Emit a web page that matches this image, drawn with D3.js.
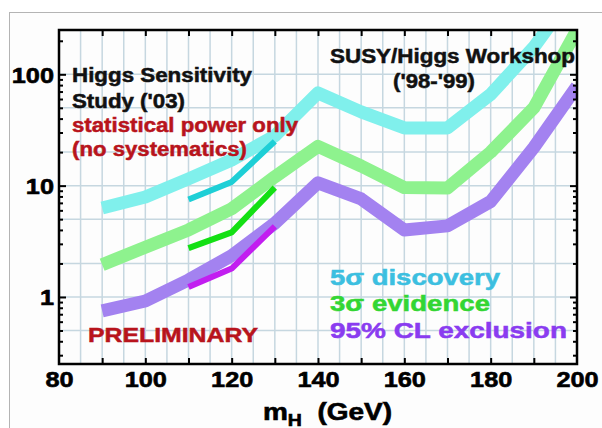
<!DOCTYPE html>
<html>
<head>
<meta charset="utf-8">
<script src="https://cdn.jsdelivr.net/npm/d3@7"></script>
<style>
  body { margin: 0; background: #fff; }
  svg { display: block; font-family: "Liberation Sans", Arial, sans-serif; font-weight: bold; }
</style>
</head>
<body>
<svg id="chart" width="602" height="428"></svg>
<script>
// higgs masses (GeV) for the wide bands
var masses = [90, 100, 110, 120, 130, 140, 150, 160, 170, 180, 190, 200];
var discovery5 = [6.3, 7.9, 11.5, 17, 28, 68, 46, 33, 33, 66, 175, 600];
var evidence3 = [1.95, 2.8, 4.0, 6.2, 12, 22.5, 15, 9.6, 9.5, 20, 50, 250];
var exclusion95 = [0.75, 0.92, 1.42, 2.35, 4.6, 10.6, 7.6, 4.0, 4.35, 7.2, 22, 78];

// the '03 study, short thin curves
var massesNew = [110, 120, 130];
var discoveryNew = [7.5, 10.8, 25];
var evidenceNew = [2.75, 3.8, 9.6];
var exclusionNew = [1.23, 1.8, 4.3];

var xTicks = [80, 100, 120, 140, 160, 180, 200];
var yLabels = [1, 10, 100];

var svg = d3.select('#chart');
var pLeft = 59, pRight = 577, pTop = 30, pBottom = 364;

var x = d3.scaleLinear().domain([80, 200]).range([pLeft, pRight]);
var y = d3.scaleLog().domain([0.25, 250]).range([pBottom, pTop]);

// outer frame of the slide
svg.append('rect').attr('x', 0).attr('y', 0).attr('width', 602).attr('height', 428).attr('fill', '#fff');
svg.append('rect').attr('x', 9.5).attr('y', 12.5).attr('width', 620).attr('height', 440)
  .attr('fill', '#fdfdfd').attr('stroke', '#b4b4b4').attr('stroke-width', 1);

// grid
var gridX = d3.range(85, 200, 5);
var gridY = [0.5, 1, 2, 5, 10, 20, 50, 100];
var grid = svg.append('g').attr('stroke', '#c6d7e0').attr('stroke-width', 1.5);
grid.selectAll('.gx').data(gridX).enter().append('line')
  .attr('x1', d => x(d)).attr('x2', d => x(d)).attr('y1', pTop).attr('y2', pBottom);
grid.selectAll('.gy').data(gridY).enter().append('line')
  .attr('y1', d => y(d)).attr('y2', d => y(d)).attr('x1', pLeft).attr('x2', pRight);

// bands
svg.append('clipPath').attr('id', 'plot').append('rect')
  .attr('x', pLeft).attr('y', pTop).attr('width', pRight - pLeft).attr('height', pBottom - pTop);
var plot = svg.append('g').attr('clip-path', 'url(#plot)');

function drawCurve(xs, ys, color, width) {
  var line = d3.line().x(d => x(d[0])).y(d => y(d[1]));
  plot.append('path')
    .attr('d', line(d3.zip(xs, ys)))
    .attr('fill', 'none')
    .attr('stroke', color)
    .attr('stroke-width', width)
    .attr('stroke-linejoin', 'round');
}

drawCurve(masses, discovery5, '#80f0ec', 13);
drawCurve(masses, evidence3, '#8ef28e', 13);
drawCurve(masses, exclusion95, '#a382f0', 13);
drawCurve(massesNew, discoveryNew, '#1ecfd6', 6);
drawCurve(massesNew, evidenceNew, '#14e014', 6);
drawCurve(massesNew, exclusionNew, '#c21ef0', 6);

// axes: ticks pointing inward
var minor = [];
[0.1, 1, 10, 100].forEach(function(p) {
  for (var k = 2; k < 10; k++) {
    var v = p * k;
    if (v >= 0.25 && v <= 250) minor.push(v);
  }
});

function styleAxis(g) {
  g.select('.domain').remove();
  g.selectAll('line').attr('stroke', '#000').attr('stroke-width', 2);
}

svg.append('g').attr('transform', 'translate(' + pLeft + ',0)')
  .call(d3.axisRight(y).tickValues(minor).tickSize(4).tickFormat('')).call(styleAxis);
svg.append('g').attr('transform', 'translate(' + pLeft + ',0)')
  .call(d3.axisRight(y).tickValues(yLabels).tickSize(7).tickFormat('')).call(styleAxis);
svg.append('g').attr('transform', 'translate(' + pRight + ',0)')
  .call(d3.axisLeft(y).tickValues(minor).tickSize(4).tickFormat('')).call(styleAxis);
svg.append('g').attr('transform', 'translate(' + pRight + ',0)')
  .call(d3.axisLeft(y).tickValues(yLabels).tickSize(7).tickFormat('')).call(styleAxis);
svg.append('g').attr('transform', 'translate(0,' + pTop + ')')
  .call(d3.axisBottom(x).tickValues(d3.range(90, 200, 10)).tickSize(6).tickFormat('')).call(styleAxis);
svg.append('g').attr('transform', 'translate(0,' + pBottom + ')')
  .call(d3.axisTop(x).tickValues(d3.range(90, 200, 10)).tickSize(6).tickFormat('')).call(styleAxis);

svg.append('rect').attr('x', pLeft).attr('y', pTop).attr('width', pRight - pLeft).attr('height', pBottom - pTop)
  .attr('fill', 'none').attr('stroke', '#000').attr('stroke-width', 2.5);

// stretched text, the original slide is wider than the font
function stretch(sel, sx) {
  sel.each(function() {
    var w = this.getComputedTextLength();
    d3.select(this).attr('textLength', w * sx).attr('lengthAdjust', 'spacingAndGlyphs');
  });
}

var yl = svg.append('g').attr('transform', 'translate(' + (pLeft - 5) + ',0)')
  .call(d3.axisLeft(y).tickValues(yLabels).tickSize(0).tickPadding(0).tickFormat(d3.format('d')));
yl.select('.domain').remove();
yl.selectAll('text').attr('font-size', 22).attr('font-family', null).attr('fill', '#000')
  .attr('stroke', '#000').attr('stroke-width', 0.6).attr('dy', '0.36em');
stretch(yl.selectAll('text'), 1.15);

var xl = svg.append('g').attr('transform', 'translate(0,' + pBottom + ')')
  .call(d3.axisBottom(x).tickValues(xTicks).tickSize(0).tickPadding(23).tickFormat(d3.format('d')));
xl.select('.domain').remove();
xl.selectAll('text').attr('font-size', 22).attr('font-family', null).attr('fill', '#000')
  .attr('stroke', '#000').attr('stroke-width', 0.6).attr('dy', 0);
stretch(xl.selectAll('text'), 1.15);

// x title
var xt = svg.append('text').attr('x', 263).attr('y', 420).attr('font-size', 23)
  .attr('fill', '#000').attr('stroke', '#000').attr('stroke-width', 0.6);
xt.append('tspan').text('m');
xt.append('tspan').attr('font-size', 16).attr('dy', 6).text('H');
xt.append('tspan').attr('dy', -6).text('\u00a0 (GeV)');
xt.attr('textLength', 129).attr('lengthAdjust', 'spacingAndGlyphs');

// annotations
var notes = [
  {t: 'Higgs Sensitivity', x: 72, y: 82, w: 180, c: '#111', s: 20},
  {t: "Study ('03)", x: 72, y: 108, w: 113, c: '#111', s: 20},
  {t: 'statistical power only', x: 72, y: 132, w: 226, c: '#b8141c', s: 20},
  {t: '(no systematics)', x: 72, y: 156, w: 175, c: '#b8141c', s: 20},
  {t: 'SUSY/Higgs Workshop', x: 330, y: 63, w: 245, c: '#111', s: 20},
  {t: "('98-'99)", x: 393, y: 88, w: 82, c: '#111', s: 20},
  {t: 'PRELIMINARY', x: 88, y: 342, w: 170, c: '#b8141c', s: 21},
  {t: '5\u03c3 discovery', x: 330, y: 285, w: 170, c: '#3cbfe0', s: 22},
  {t: '3\u03c3 evidence', x: 330, y: 311, w: 160, c: '#33d633', s: 22},
  {t: '95% CL exclusion', x: 330, y: 338, w: 237, c: '#8a3cf0', s: 22}
];
svg.selectAll('.note').data(notes).enter().append('text')
  .attr('x', d => d.x).attr('y', d => d.y)
  .attr('font-size', d => d.s).attr('fill', d => d.c)
  .attr('stroke', d => d.c).attr('stroke-width', 0.5)
  .attr('textLength', d => d.w).attr('lengthAdjust', 'spacingAndGlyphs')
  .text(d => d.t);
</script>
</body>
</html>
